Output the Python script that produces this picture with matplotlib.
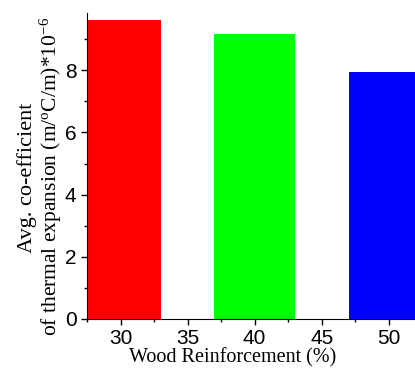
import matplotlib
matplotlib.use("Agg")
import matplotlib.pyplot as plt
from matplotlib.ticker import MultipleLocator

plt.rcParams["mathtext.fontset"] = "custom"
plt.rcParams["mathtext.rm"] = "Liberation Serif"
plt.rcParams["mathtext.it"] = "Liberation Serif"
plt.rcParams["mathtext.default"] = "rm"

# wood reinforcement (%) and avg. coefficient of thermal expansion
reinforcement = [30, 40, 50]
cte = [9.61, 9.16, 7.94]
colors = ["#ff0000", "#00ff00", "#0000ff"]

fig = plt.figure(figsize=(4.15, 3.69), dpi=100)
ax = fig.add_axes([87/415, 50/369, 330/415, 306/369])

ax.bar(reinforcement, cte, width=6, color=colors)

ax.set_xlim(27.5, 52.1)
ax.set_ylim(0, 9.84)
ax.xaxis.set_major_locator(MultipleLocator(5))
ax.xaxis.set_minor_locator(MultipleLocator(2.5))
ax.yaxis.set_major_locator(MultipleLocator(2))
ax.yaxis.set_minor_locator(MultipleLocator(1))
ax.tick_params(which="major", direction="out", length=4, width=1,
               labelsize=15, labelfontfamily="Liberation Sans")
ax.tick_params(which="minor", direction="out", length=2.5, width=1)
ax.spines["top"].set_visible(False)
ax.spines["right"].set_visible(False)

ax.set_xlabel("Wood Reinforcement (%)", family="Liberation Serif", fontsize=14.5)
ax.xaxis.set_label_coords((233-87)/330, -0.095)

# two-line y label, each line placed on its own
fig.text(27/415, 1 - 178/369, "Avg. co-efficient", family="Liberation Serif",
         fontsize=16, rotation=90, ha="center", va="center")
fig.text(51/415, 1 - 176/369, "of thermal expansion (m/$^o$C/m)*10$^{-6}$",
         family="Liberation Serif", fontsize=15.5, rotation=90,
         ha="center", va="center")

fig.savefig("out.png", dpi=100)
